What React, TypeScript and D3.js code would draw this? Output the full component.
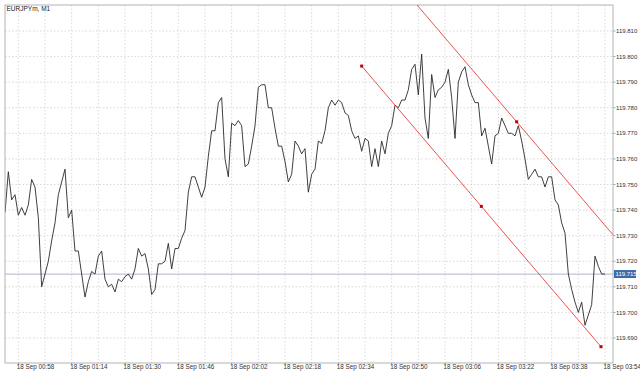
import React from "react";
import * as d3 from "d3";

const title = "EURJPYm, M1";
const startTime = "00:54"; // time of first close in the series (minute bars)
const closes: number[] = [
  119.739, 119.755, 119.744, 119.746, 119.738, 119.741, 119.738, 119.742, 119.752, 119.749,
  119.737, 119.710, 119.715, 119.720, 119.728, 119.735, 119.746, 119.751, 119.756, 119.737,
  119.740, 119.724, 119.724, 119.715, 119.706, 119.712, 119.716, 119.715, 119.722, 119.724,
  119.713, 119.710, 119.711, 119.708, 119.713, 119.712, 119.714, 119.715, 119.713, 119.717,
  119.725, 119.722, 119.723, 119.717, 119.707, 119.709, 119.719,
  119.719, 119.720, 119.727, 119.717, 119.725, 119.725, 119.729, 119.732,
  119.747, 119.753, 119.753, 119.749, 119.745, 119.749, 119.761, 119.771, 119.771, 119.782,
  119.784, 119.760, 119.753, 119.774, 119.773, 119.775, 119.773, 119.757, 119.758, 119.765,
  119.773, 119.788, 119.789, 119.789, 119.780, 119.780, 119.772, 119.765, 119.765, 119.759,
  119.751, 119.754, 119.767, 119.765, 119.762, 119.764, 119.747, 119.754, 119.756, 119.767,
  119.766, 119.771, 119.780, 119.783, 119.781, 119.783, 119.782, 119.778, 119.777, 119.771,
  119.768, 119.769, 119.763, 119.768, 119.767, 119.757, 119.764, 119.757, 119.767, 119.762,
  119.770, 119.773, 119.781, 119.780, 119.783, 119.783, 119.787, 119.795, 119.797, 119.785,
  119.801, 119.776, 119.768, 119.793, 119.784, 119.787, 119.788, 119.790, 119.795, 119.784,
  119.768, 119.790, 119.794, 119.796, 119.789, 119.785, 119.782, 119.782,
  119.769, 119.772, 119.765, 119.758, 119.769, 119.770, 119.776, 119.773, 119.770, 119.770,
  119.769, 119.773, 119.767, 119.760, 119.752, 119.754, 119.756, 119.753, 119.753, 119.749,
  119.753, 119.753, 119.744, 119.742, 119.735, 119.731, 119.715, 119.709, 119.704, 119.700,
  119.704, 119.695, 119.699, 119.703, 119.722, 119.718, 119.715, 119.715,
];
const currentPrice = 119.715;
const priceTicks = [119.69, 119.7, 119.71, 119.72, 119.73, 119.74, 119.75, 119.76, 119.77, 119.78, 119.79, 119.8, 119.81];
const timeLabels = ["00:58", "01:14", "01:30", "01:46", "02:02", "02:18", "02:34", "02:50", "03:06", "03:22", "03:38", "03:54"];
const datePrefix = "18 Sep ";
// equidistant channel anchors: [minutes since start, price]
const channelBase = [
  [107, 119.7963],
  [178.8, 119.6866],
];
const channelThird = [153.5, 119.7745];

const W = 640, H = 373;
const plot = { left: 5, right: 613, top: 5, bottom: 363 };
const toMin = (s: string) => {
  const [h, m] = s.split(":").map(Number);
  return h * 60 + m;
};
const t0 = toMin(startTime);

export default function App() {
  const n = closes.length;
  const x = d3.scaleLinear().domain([0, n - 1]).range([5, 605]);
  const y = d3.scaleLinear().domain([119.69, 119.81]).range([338, 31]);
  const line = d3.line<number>().x((_, i) => x(i)).y((d) => y(d));

  const gridMins: number[] = [];
  const firstLbl = toMin(timeLabels[0]) - t0;
  for (let m = firstLbl; m < n; m += 8) gridMins.push(m);

  const [p1, p2] = channelBase;
  const slope = (p2[1] - p1[1]) / (p2[0] - p1[0]);
  const mid = [(p1[0] + p2[0]) / 2, (p1[1] + p2[1]) / 2];
  const upA = p1[0];
  const upB = p2[0] + 20;
  const upY = (k: number) => channelThird[1] + slope * (k - channelThird[0]);

  const font = "'Liberation Sans', Arial, sans-serif";
  const red = "#e8403c";
  const dotC = "#c40000";
  const py = y(currentPrice);

  return (
    <svg width={W} height={H} style={{ position: "absolute", left: 0, top: 0, background: "#fff" }}>
      <defs>
        <clipPath id="pc">
          <rect x={plot.left} y={plot.top} width={plot.right - plot.left} height={plot.bottom - plot.top} />
        </clipPath>
      </defs>
      <rect x={0} y={0} width={W} height={H} fill="#fff" />
      {priceTicks.map((p) => (
        <line key={"h" + p} x1={plot.left} x2={plot.right} y1={y(p)} y2={y(p)} stroke="#cfcfcf" strokeWidth={0.8} strokeDasharray="1.5,2" />
      ))}
      {gridMins.map((m) => (
        <line key={"v" + m} x1={x(m)} x2={x(m)} y1={plot.top} y2={plot.bottom} stroke="#cfcfcf" strokeWidth={0.8} strokeDasharray="1.5,2" />
      ))}
      <line x1={plot.left} x2={plot.right} y1={py} y2={py} stroke="#bcc6d6" strokeWidth={1.2} />
      <g clipPath="url(#pc)">
        <path d={line(closes) || ""} fill="none" stroke="#2a2a2a" strokeWidth={0.9} strokeLinejoin="round" />
        <line x1={x(p1[0])} y1={y(p1[1])} x2={x(p2[0])} y2={y(p2[1])} stroke={red} strokeWidth={0.9} />
        <line x1={x(upA)} y1={y(upY(upA))} x2={x(upB)} y2={y(upY(upB))} stroke={red} strokeWidth={0.9} />
      </g>
      {[p1, mid, p2, channelThird].map((p, i) => (
        <rect key={"d" + i} x={x(p[0]) - 1.5} y={y(p[1]) - 1.5} width={3} height={3} fill={dotC} />
      ))}
      <rect x={plot.left} y={plot.top} width={plot.right - plot.left} height={plot.bottom - plot.top} fill="none" stroke="#a0a0a0" strokeWidth={0.8} />
      <text x={6.5} y={11} fontFamily={font} fontSize={6.5} fill="#222">{title}</text>
      {priceTicks.map((p) => (
        <g key={"yt" + p}>
          <line x1={plot.right} x2={plot.right + 2.5} y1={y(p)} y2={y(p)} stroke="#888" strokeWidth={0.7} />
          <text x={616} y={y(p)} dy="0.35em" fontFamily={font} fontSize={6} fill="#333">{p.toFixed(3)}</text>
        </g>
      ))}
      <rect x={614} y={py - 4} width={22} height={8} fill="#3d6aa8" />
      <text x={615.5} y={py} dy="0.35em" fontFamily={font} fontSize={6} fill="#fff">{currentPrice.toFixed(3)}</text>
      {timeLabels.map((t) => {
        const m = toMin(t) - t0;
        return (
          <g key={"xt" + t}>
            <line x1={x(m)} x2={x(m)} y1={plot.bottom} y2={plot.bottom + 2.5} stroke="#888" strokeWidth={0.7} />
            <text x={x(m) - 1.5} y={367} dy="0.35em" fontFamily={font} fontSize={6.3} fill="#333">{datePrefix + t}</text>
          </g>
        );
      })}
    </svg>
  );
}
